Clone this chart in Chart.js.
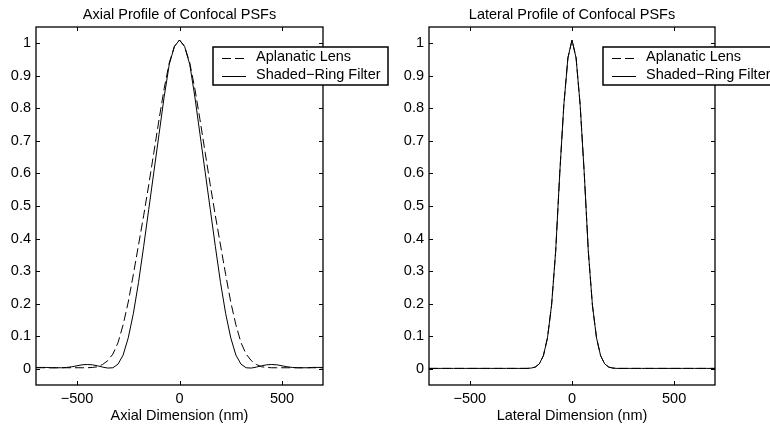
<!DOCTYPE html>
<html>
<head>
<meta charset="utf-8">
<script src="https://cdn.jsdelivr.net/npm/chart.js@4/dist/chart.umd.min.js"></script>
<style>
  body { margin: 0; background: #fff; }
  #wrap { position: relative; width: 770px; height: 427px; overflow: hidden; }
  canvas { position: absolute; top: 0; }
</style>
</head>
<body>
<div id="wrap">
  <canvas id="axial" width="400" height="427" style="left:0"></canvas>
  <canvas id="lateral" width="385" height="427" style="left:385px"></canvas>
</div>
<script>
// axial profile, x in nm (step 25)
const axialX = [-700,-675,-650,-625,-600,-575,-550,-525,-500,-475,-450,-425,-400,-375,-350,-325,-300,-275,-250,-225,-200,-175,-150,-125,-100,-75,-50,-25,
  0,25,50,75,100,125,150,175,200,225,250,275,300,325,350,375,400,425,450,475,500,525,550,575,600,625,650,675,700];
const axialAplanatic = [0.003,0.003,0.003,0.003,0.003,0.003,0.003,0.003,0.003,0.003,0.003,0.004,0.006,0.013,0.025,0.045,0.08,0.135,0.205,0.29,0.38,0.47,0.565,0.665,0.765,0.86,0.94,0.99,
  1.01,0.99,0.94,0.86,0.765,0.665,0.565,0.47,0.38,0.29,0.205,0.135,0.08,0.045,0.025,0.013,0.006,0.004,0.003,0.003,0.003,0.003,0.003,0.003,0.003,0.003,0.003,0.003,0.003];
const axialShaded = [0.004,0.004,0.004,0.003,0.003,0.003,0.004,0.006,0.009,0.012,0.013,0.012,0.009,0.005,0.002,0.003,0.014,0.042,0.095,0.17,0.265,0.375,0.49,0.605,0.72,0.835,0.935,0.99,
  1.01,0.99,0.935,0.835,0.72,0.605,0.49,0.375,0.265,0.17,0.095,0.042,0.014,0.003,0.002,0.005,0.009,0.012,0.013,0.012,0.009,0.006,0.004,0.003,0.003,0.003,0.004,0.004,0.004];

// lateral profile, x in nm (step 20)
const lateralX = [-700,-680,-660,-640,-620,-600,-580,-560,-540,-520,-500,-480,-460,-440,-420,-400,-380,-360,-340,-320,-300,-280,-260,-240,-220,-200,-180,-160,-140,-120,-100,-80,-60,-40,-20,
  0,20,40,60,80,100,120,140,160,180,200,220,240,260,280,300,320,340,360,380,400,420,440,460,480,500,520,540,560,580,600,620,640,660,680,700];
const lateralAplanatic = [0.001,0.001,0.001,0.001,0.001,0.001,0.001,0.001,0.001,0.001,0.001,0.001,0.001,0.001,0.001,0.001,0.001,0.001,0.001,0.001,0.001,0.001,0.001,0.001,0.001,0.002,0.005,0.015,0.04,0.095,0.195,0.36,0.6,0.81,0.955,
  1.01,0.955,0.81,0.6,0.36,0.195,0.095,0.04,0.015,0.005,0.002,0.001,0.001,0.001,0.001,0.001,0.001,0.001,0.001,0.001,0.001,0.001,0.001,0.001,0.001,0.001,0.001,0.001,0.001,0.001,0.001,0.001,0.001,0.001,0.001,0.001];
const lateralShaded = [0.001,0.001,0.001,0.001,0.001,0.001,0.001,0.001,0.001,0.001,0.001,0.001,0.001,0.001,0.001,0.001,0.001,0.001,0.001,0.001,0.001,0.001,0.001,0.001,0.001,0.002,0.005,0.015,0.04,0.095,0.195,0.36,0.6,0.81,0.955,
  1.01,0.955,0.81,0.6,0.36,0.195,0.095,0.04,0.015,0.005,0.002,0.001,0.001,0.001,0.001,0.001,0.001,0.001,0.001,0.001,0.001,0.001,0.001,0.001,0.001,0.001,0.001,0.001,0.001,0.001,0.001,0.001,0.001,0.001,0.001,0.001];

const xTicks = [-500, 0, 500];
const yTicks = [0, 0.1, 0.2, 0.3, 0.4, 0.5, 0.6, 0.7, 0.8, 0.9, 1];
const seriesLabels = ['Aplanatic Lens', 'Shaded\u2212Ring Filter'];

const FONT = "'Liberation Sans', Arial, Helvetica, sans-serif";
Chart.defaults.font.family = FONT;
Chart.defaults.font.size = 14.5;
Chart.defaults.color = '#000';

const pts = (xs, ys) => xs.map((x, i) => ({ x: x, y: ys[i] }));

// matlab style box with inward ticks on all four sides
const boxTicks = {
  id: 'boxTicks',
  afterDraw(chart) {
    const { ctx, chartArea: a, scales } = chart;
    const len = 4;
    ctx.save();
    ctx.strokeStyle = '#000';
    ctx.lineWidth = 1;
    ctx.beginPath();
    scales.x.ticks.forEach(t => {
      const px = Math.round(scales.x.getPixelForValue(t.value)) + 0.5;
      ctx.moveTo(px, a.bottom); ctx.lineTo(px, a.bottom - len);
      ctx.moveTo(px, a.top); ctx.lineTo(px, a.top + len);
    });
    scales.y.ticks.forEach(t => {
      const py = Math.round(scales.y.getPixelForValue(t.value)) + 0.5;
      ctx.moveTo(a.left, py); ctx.lineTo(a.left + len, py);
      ctx.moveTo(a.right, py); ctx.lineTo(a.right - len, py);
    });
    ctx.stroke();
    ctx.lineWidth = 1.3;
    ctx.strokeRect(a.left, a.top, a.right - a.left, a.bottom - a.top);
    ctx.restore();
  }
};

// legend box placed like the original (may run past the axes)
const boxLegend = {
  id: 'boxLegend',
  afterDraw(chart, args, o) {
    const ctx = chart.ctx;
    ctx.save();
    ctx.fillStyle = '#fff';
    ctx.fillRect(o.left, o.top, o.width, o.height);
    ctx.strokeStyle = '#000';
    ctx.lineWidth = 1.5;
    ctx.strokeRect(o.left, o.top, o.width, o.height);
    ctx.font = '14.5px ' + FONT;
    ctx.textBaseline = 'middle';
    ctx.fillStyle = '#000';
    chart.data.datasets.forEach((ds, i) => {
      const y = o.top + 10 + i * 18;
      ctx.lineWidth = 1;
      ctx.setLineDash(ds.borderDash || []);
      ctx.beginPath();
      ctx.moveTo(o.left + 9, y + 1.5);
      ctx.lineTo(o.left + 33, y + 1.5);
      ctx.stroke();
      ctx.setLineDash([]);
      ctx.fillText(ds.label, o.left + 43, y);
    });
    ctx.restore();
  }
};

function makeChart(id, title, xTitle, xs, ys1, ys2, padRight, yWidth, legendLeft) {
  return new Chart(document.getElementById(id), {
    type: 'line',
    data: {
      datasets: [
        { label: seriesLabels[0], data: pts(xs, ys1), borderColor: '#000', borderWidth: 1, borderDash: [9, 4], pointRadius: 0, tension: 0, fill: false },
        { label: seriesLabels[1], data: pts(xs, ys2), borderColor: '#000', borderWidth: 1, pointRadius: 0, tension: 0, fill: false }
      ]
    },
    options: {
      responsive: false,
      animation: false,
      layout: { padding: { left: 0, right: padRight, top: 0, bottom: 0 } },
      scales: {
        x: {
          type: 'linear', min: -700, max: 700,
          grid: { display: false, drawTicks: false },
          border: { display: false },
          afterBuildTicks: s => { s.ticks = xTicks.map(v => ({ value: v })); },
          afterFit: s => { s.height = 42; },
          ticks: { padding: 5, maxRotation: 0, callback: v => (v < 0 ? '\u2212' + Math.abs(v) : String(v)) },
          title: { display: true, text: xTitle, padding: { top: 0, bottom: 2 } }
        },
        y: {
          type: 'linear', min: -0.05, max: 1.05,
          grid: { display: false, drawTicks: false },
          border: { display: false },
          afterBuildTicks: s => { s.ticks = yTicks.map(v => ({ value: v })); },
          afterFit: s => { s.width = yWidth; },
          ticks: { padding: 5, callback: v => String(v) }
        }
      },
      plugins: {
        legend: { display: false },
        tooltip: { enabled: false },
        title: { display: true, text: title, fullSize: false, font: { size: 14.5, weight: 'normal' }, padding: { top: 6, bottom: 3.6 } },
        boxLegend: { left: legendLeft, top: 47, width: 175, height: 38 }
      }
    },
    plugins: [boxTicks, boxLegend]
  });
}

makeChart('axial', 'Axial Profile of Confocal PSFs', 'Axial Dimension (nm)', axialX, axialAplanatic, axialShaded, 77, 36, 213);
makeChart('lateral', 'Lateral Profile of Confocal PSFs', 'Lateral Dimension (nm)', lateralX, lateralAplanatic, lateralShaded, 55, 44, 218);
</script>
</body>
</html>
